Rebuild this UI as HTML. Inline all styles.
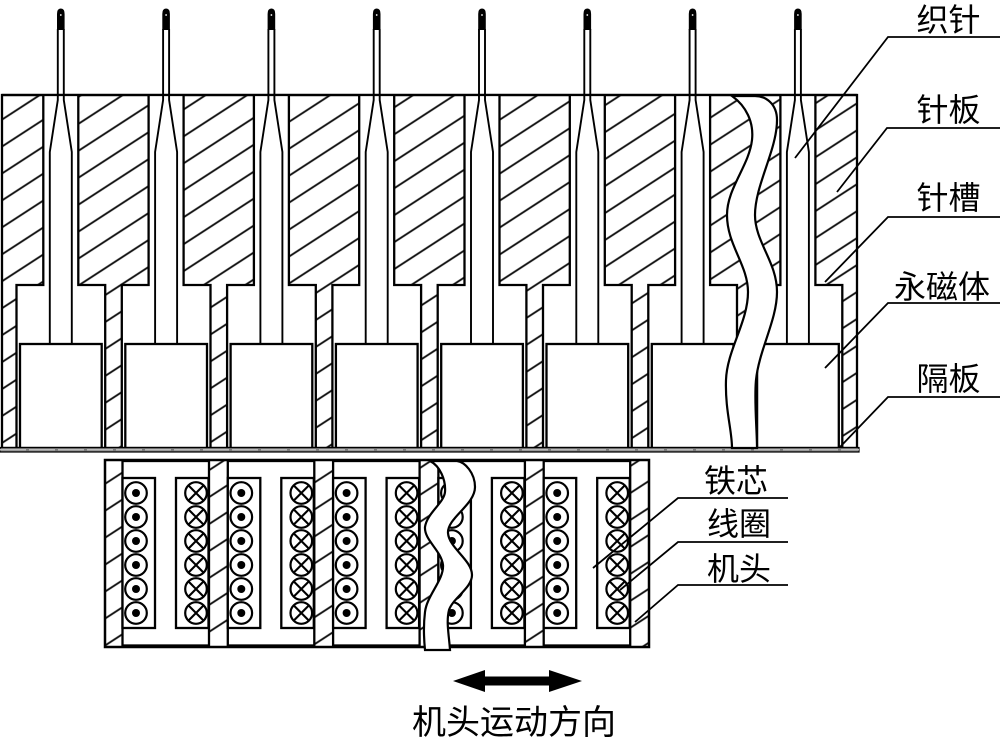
<!DOCTYPE html>
<html><head><meta charset="utf-8"><style>
html,body{margin:0;padding:0;background:#fff;}
svg{display:block;}
text{font-family:"Liberation Sans","Noto Sans CJK SC",sans-serif;fill:#000;}
</style></head><body>
<svg width="1000" height="738" viewBox="0 0 1000 738" xmlns="http://www.w3.org/2000/svg">
<defs>
<pattern id="h" patternUnits="userSpaceOnUse" width="22.6" height="22.6" patternTransform="rotate(57)">
<rect width="22.6" height="22.6" fill="#fff"/>
<line x1="11" y1="0" x2="11" y2="22.6" stroke="#111" stroke-width="1.9"/>
</pattern>
<g id="cell">
<path d="M-17.5,95 V285 H-44.3 V448 H44.4 V285 H17.5 V95" fill="#fff" stroke="#000" stroke-width="2.3"/>
<rect x="-40.8" y="344" width="81.7" height="104" fill="#fff" stroke="#000" stroke-width="2.3"/>
<path d="M-3,29 V100 L-11,152 V344 M3,29 V100 L11,152 V344" fill="none" stroke="#000" stroke-width="1.9"/>
<path d="M-3.8,30 V14 Q-3.8,8.5 0,8.5 Q3.8,8.5 3.8,14 V30 Z" fill="#000"/>
<circle cx="0" cy="15" r="0.9" fill="#fff"/>
</g>
<g id="dc"><circle r="10.8" fill="#fff" stroke="#000" stroke-width="2.2"/><circle r="4" fill="#000"/></g>
<g id="xc"><circle r="10.8" fill="#fff" stroke="#000" stroke-width="2.2"/><path d="M-7.6,-7.6 L7.6,7.6 M7.6,-7.6 L-7.6,7.6" stroke="#000" stroke-width="2.1"/></g>
<g id="core">
<rect x="122.5" y="461" width="86.5" height="184.5" fill="#fff" stroke="#000" stroke-width="2.3"/>
<rect x="122.5" y="478" width="32.5" height="150" fill="#fff" stroke="#000" stroke-width="2.3"/>
<rect x="176" y="478" width="32.5" height="150" fill="#fff" stroke="#000" stroke-width="2.3"/>
<use href="#dc" x="136" y="493"/><use href="#dc" x="136" y="517"/><use href="#dc" x="136" y="541"/>
<use href="#dc" x="136" y="565"/><use href="#dc" x="136" y="589"/><use href="#dc" x="136" y="613"/>
<use href="#xc" x="196" y="493"/><use href="#xc" x="196" y="517"/><use href="#xc" x="196" y="541"/>
<use href="#xc" x="196" y="565"/><use href="#xc" x="196" y="589"/><use href="#xc" x="196" y="613"/>
</g>
</defs>
<rect width="1000" height="738" fill="#fff"/>

<!-- needle plate -->
<rect x="2" y="95" width="855" height="353" fill="url(#h)" stroke="#000" stroke-width="2.3"/>
<use href="#cell" x="60.8"/>
<use href="#cell" x="166.1"/>
<use href="#cell" x="271.4"/>
<use href="#cell" x="376.7"/>
<use href="#cell" x="482.0"/>
<use href="#cell" x="587.3"/>
<use href="#cell" x="692.6"/>
<use href="#cell" x="797.9"/>

<!-- bottom strip -->
<rect x="0" y="447.5" width="859" height="4.5" fill="#7a7a7a" stroke="#000" stroke-width="1.2"/>
<line x1="0" y1="449.8" x2="859" y2="449.8" stroke="#bbb" stroke-width="1.5" stroke-dasharray="26 3"/>

<!-- yarn top -->
<path d="M732,96 C746,106 754,122 752,140 C749,166 727,188 727,215 C727,245 748,265 748,292 C748,322 727,350 726,380 C725,410 732,430 732,448 L757,448 C757,430 754,400 756,380 C759,350 777,320 777,292 C777,262 755,242 755,215 C755,185 777,150 777,120 C777,104 766,96 755,96 Z" fill="#fff" stroke="#000" stroke-width="2.2"/>
<line x1="2" y1="95" x2="857" y2="95" stroke="#000" stroke-width="2.3"/>

<!-- machine head -->
<rect x="105" y="460" width="544" height="187" fill="url(#h)" stroke="#000" stroke-width="2.5"/>
<use href="#core" x="0"/>
<use href="#core" x="105.3"/>
<use href="#core" x="210.6"/>
<use href="#core" x="315.9"/>
<use href="#core" x="421.2"/>

<!-- yarn bottom -->
<path d="M430,461 C440,466 446,480 445,492 C444,503 427,513 425,527 C424,540 441,550 443,565 C444,580 427,595 425,612 C423,628 424,640 425,650 L450,650 C449,635 446,622 449,610 C453,598 472,588 472,575 C472,560 449,548 448,533 C447,518 475,505 475,487 C475,473 465,462 457,461 Z" fill="#fff" stroke="#000" stroke-width="2.2"/>

<!-- leaders -->
<g fill="none" stroke="#000" stroke-width="1.8">
<polyline points="795,158 888,37 1000,37"/>
<polyline points="837,192 887,128 1000,128"/>
<polyline points="825,282 888,217 1000,217"/>
<polyline points="825,368 888,303 1000,303"/>
<polyline points="840,447 888,397 1000,397"/>
<polyline points="593,568 678,498 788,498"/>
<polyline points="620,590 678,542 788,542"/>
<polyline points="635,622 678,585 788,585"/>
</g>

<!-- labels -->
<g font-size="32">
<text x="916.5" y="31">织针</text>
<text x="916.5" y="121">针板</text>
<text x="916.5" y="209">针槽</text>
<text x="894" y="298">永磁体</text>
<text x="916.5" y="390">隔板</text>
<text x="704" y="492">铁芯</text>
<text x="707" y="535">线圈</text>
<text x="707" y="580">机头</text>
</g>

<!-- arrow -->
<polygon points="453,681 485,670 485,676.5 549,676.5 549,670 582,681 549,692 549,685.5 485,685.5 485,692" fill="#000"/>
<text x="412" y="734" font-size="34">机头运动方向</text>
</svg>
</body></html>
